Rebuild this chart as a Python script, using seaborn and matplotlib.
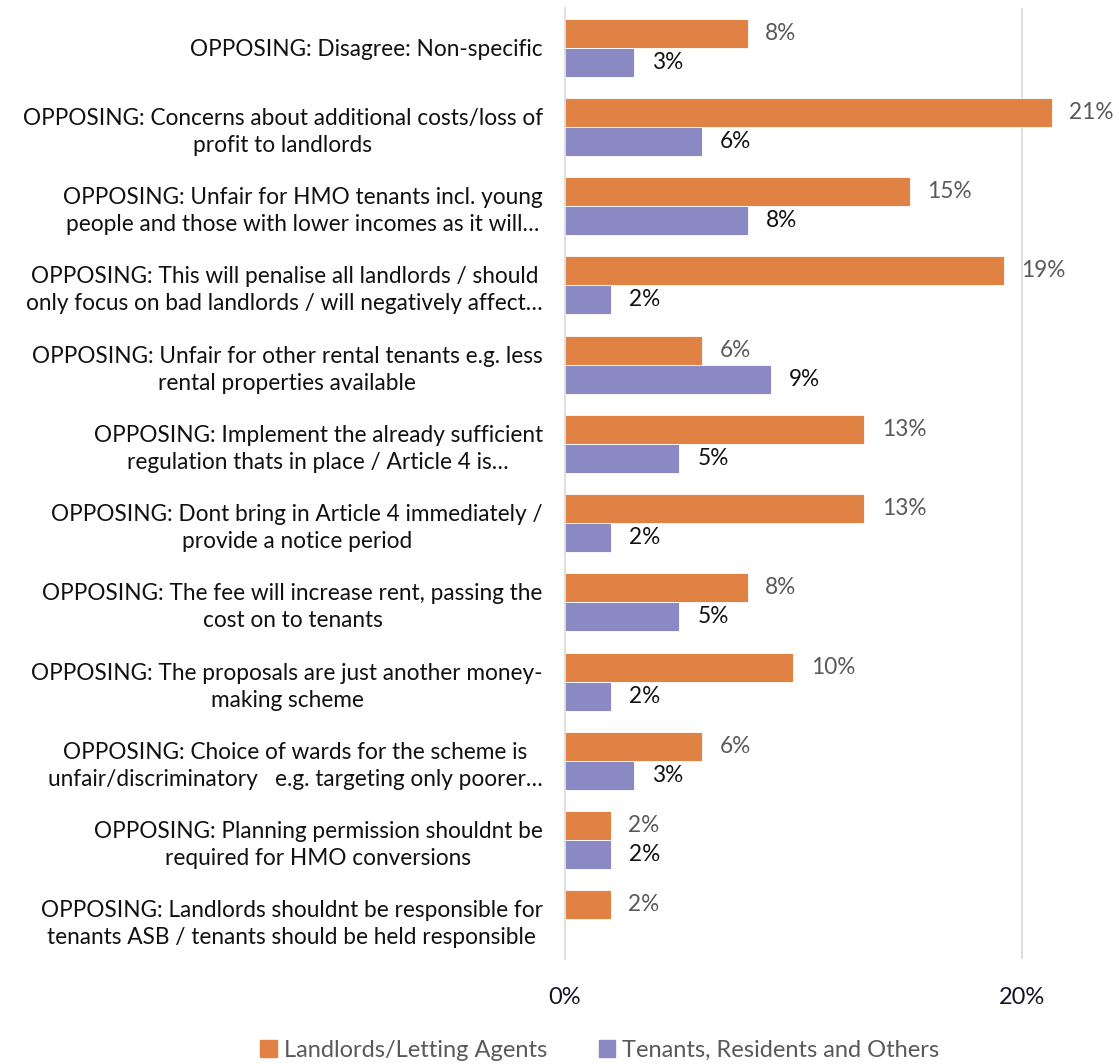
import numpy as np
import pandas as pd
import matplotlib.pyplot as plt
import seaborn as sns

# data (percent)
categories = [
    "OPPOSING: Disagree: Non-specific",
    "OPPOSING: Concerns about additional costs/loss of\nprofit to landlords",
    "OPPOSING: Unfair for HMO tenants incl. young\npeople and those with lower incomes as it will…",
    "OPPOSING: This will penalise all landlords / should\nonly focus on bad landlords / will negatively affect…",
    "OPPOSING: Unfair for other rental tenants e.g. less\nrental properties available",
    "OPPOSING: Implement the already sufficient\nregulation thats in place / Article 4 is…",
    "OPPOSING: Dont bring in Article 4 immediately /\nprovide a notice period",
    "OPPOSING: The fee will increase rent, passing the\ncost on to tenants",
    "OPPOSING: The proposals are just another money-\nmaking scheme",
    "OPPOSING: Choice of wards for the scheme is\nunfair/discriminatory   e.g. targeting only poorer…",
    "OPPOSING: Planning permission shouldnt be\nrequired for HMO conversions",
    "OPPOSING: Landlords shouldnt be responsible for\ntenants ASB / tenants should be held responsible",
]
landlords = [8.0, 21.3, 15.1, 19.2, 6.0, 13.1, 13.1, 8.0, 10.0, 6.0, 2.0, 2.0]
tenants = [3.0, 6.0, 8.0, 2.0, 9.0, 5.0, 2.0, 5.0, 2.0, 3.0, 2.0, np.nan]
groups = ["Landlords/Letting Agents", "Tenants, Residents and Others"]
colors = ["#E08244", "#8B89C3"]

df = pd.concat([
    pd.DataFrame({"category": categories, "value": landlords, "group": groups[0]}),
    pd.DataFrame({"category": categories, "value": tenants, "group": groups[1]}),
]).dropna()

sns.set_style("white")
plt.rcParams['font.family'] = ['Lato', 'DejaVu Sans']

fig = plt.figure(figsize=(11.19, 10.64), dpi=100)
ax = fig.add_axes([0.5049, 0.0987, 0.490, 0.8938])

sns.barplot(data=df, y="category", x="value", hue="group", order=categories,
            hue_order=groups, palette=colors, saturation=1, width=0.73, orient="h",
            edgecolor="white", linewidth=0.6, ax=ax, legend=False)

ax.set_xlim(0, 24)
ax.set_ylim(11.5, -0.5)
ax.set_xticks([0, 20])
ax.set_xticklabels(["0%", "20%"], fontsize=17, color="#141428")
ax.tick_params(axis="x", length=0, pad=20)
ax.tick_params(axis="y", length=0, pad=16)
for lbl in ax.get_yticklabels():
    lbl.set_fontsize(16.3)
    lbl.set_color("#111111")
    lbl.set_multialignment("center")
    lbl.set_linespacing(1.35)
ax.set_xlabel("")
ax.set_ylabel("")

ax.axvline(20, color="#D9D9D9", lw=1.2, zorder=0)
for side in ["top", "right", "bottom"]:
    ax.spines[side].set_visible(False)
ax.spines["left"].set_color("#D9D9D9")
ax.spines["left"].set_linewidth(1.2)

# value labels
ax.bar_label(ax.containers[0], labels=[f"{v:.0f}%" for v in landlords],
             padding=12.5, fontsize=16.3, color="#595959")
ax.bar_label(ax.containers[1], labels=[f"{v:.0f}%" for v in tenants if not np.isnan(v)],
             padding=13, fontsize=16.3, color="#111111")

handles = [plt.Rectangle((0, 0), 1, 1, color=c) for c in colors]
leg = fig.legend(handles, groups, loc="center", bbox_to_anchor=(0.536, 0.013),
                 ncol=2, frameon=False, fontsize=17, handlelength=0.7,
                 handleheight=0.7, handletextpad=0.3, columnspacing=2.2)
for t in leg.get_texts():
    t.set_color("#595959")

plt.savefig("out.png", dpi=100)
plt.close()
